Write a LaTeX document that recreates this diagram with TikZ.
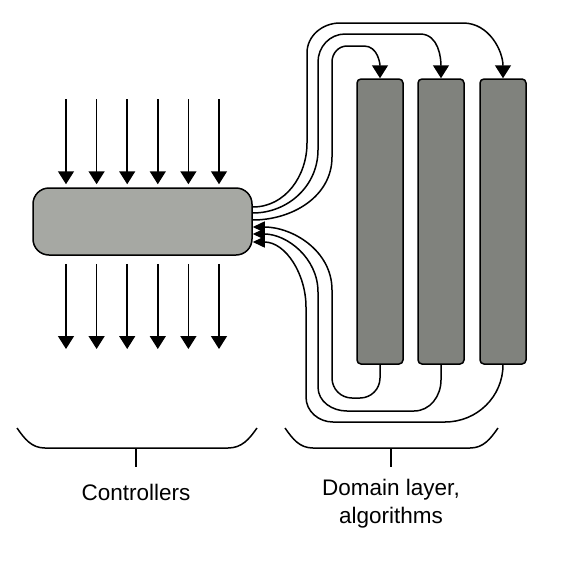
\documentclass[tikz,border=0pt]{standalone}
\usepackage{fontspec}
\setmainfont{Liberation Sans}
\usepackage{tikz}
\usetikzlibrary{calc}
\usetikzlibrary{arrows.meta}
\usepackage{xcolor}
\definecolor{ctrlgray}{rgb}{0.65,0.66,0.64}
\definecolor{layergray}{rgb}{0.50,0.51,0.49}
\tikzset{
  bigarrow/.style={-{Triangle[width=16pt,length=13pt]}},
  smallarrow/.style={-{Triangle[width=11pt,length=12pt]}},
  layerbox/.style={draw, fill=layergray, rounded corners=4pt, minimum width=46pt, minimum height=285pt, inner sep=0pt},
  label/.style={font=\fontsize{22.5}{28}\selectfont, align=center},
}

\begin{document}
\begin{tikzpicture}[x=1pt, y=1pt, line width=1.5pt]
%%%%%%%%%%%%%%%%%%%%%%%%%%%%%%%%%%%%%%%%%%%%%%%%%%%%%%%%%%%%%% Setup
\useasboundingbox (0,0) rectangle (572,-576);

\node[draw, fill=ctrlgray, rounded corners=16pt, minimum width=219pt, minimum height=67pt, inner sep=0pt] (ctrl) at (142.5,-221.5) {};

\node[layerbox] (d1) at (380,-221.5) {};
\node[layerbox] (d2) at (441,-221.5) {};
\node[layerbox] (d3) at (503,-221.5) {};

%%%%%%%%%%%%%%%%%%%%%%%%%%%%%%%%%%%%%%%%%%%%%%%%%%%%%%%%%%%%%% Requests
\foreach \i in {0,...,5} {
  \coordinate (in\i) at ($(66,-99)+(\i*30.6,0)$);
  \coordinate (out\i) at ($(66,-349)+(\i*30.6,0)$);
  \draw[bigarrow, shorten >=3pt] (in\i) -- (in\i |- ctrl.north);
  \draw[bigarrow, shorten <=8pt] (out\i |- ctrl.south) -- (out\i);
}

%%%%%%%%%%%%%%%%%%%%%%%%%%%%%%%%%%%%%%%%%%%%%%%%%%%%%%%%%%%%%% Calls
\draw[bigarrow] ($(ctrl.east)+(0,14.5)$) to[out=0,in=-90] (307,-143) -- (307,-53)
  to[out=90,in=180] (340,-23) -- (463,-23) to[out=0,in=90] (d3.north);
\draw[bigarrow] ($(ctrl.east)+(0,8.5)$) to[out=0,in=-90] (318,-150) -- (318,-62)
  to[out=90,in=180] (345,-34) -- (420,-34) to[out=0,in=90] (d2.north);
\draw[bigarrow] ($(ctrl.east)+(0,1.5)$) to[out=0,in=-90] (332,-157) -- (332,-62)
  to[out=90,in=180] (347,-46) -- (364,-46) to[out=0,in=90] (d1.north);

%%%%%%%%%%%%%%%%%%%%%%%%%%%%%%%%%%%%%%%%%%%%%%%%%%%%%%%%%%%%%% Results
\draw[smallarrow] (d1.south) -- (380,-378) to[out=-90,in=0] (360,-398) -- (352,-398)
  to[out=180,in=-90] (332,-378) -- (332,-290) to[out=90,in=0] ($(ctrl.east)+(0,-5.5)$);
\draw[smallarrow] (d2.south) -- (441,-380) to[out=-90,in=0] (414,-411) -- (347,-411)
  to[out=180,in=-90] (318,-387) -- (318,-292) to[out=90,in=0] ($(ctrl.east)+(0,-12.5)$);
\draw[smallarrow] (d3.south) to[out=-90,in=0] (445,-422) -- (333,-422)
  to[out=180,in=-90] (306,-397) -- (306,-307) to[out=90,in=0] ($(ctrl.east)+(0,-20.5)$);

%%%%%%%%%%%%%%%%%%%%%%%%%%%%%%%%%%%%%%%%%%%%%%%%%%%%%%%%%%%%%% Braces
\draw (17,-428) to[out=-55,in=180] (45,-448) -- (228,-448) to[out=0,in=-125] (257,-428);
\draw (285,-428) to[out=-55,in=180] (313,-448) -- (470,-448) to[out=0,in=-125] (498,-428);
\coordinate (b1) at (136,-448);
\coordinate (b2) at (391,-448);
\draw (b1) -- ++(0,-19) coordinate (t1);
\draw (b2) -- ++(0,-19) coordinate (t2);

\node[label] (lctrl) at ($(t1)+(0,-25)$) {Controllers};
\node[label] (ldom) at ($(t2)+(0,-37)$) {Domain layer,\\algorithms};

\end{tikzpicture}
\end{document}
